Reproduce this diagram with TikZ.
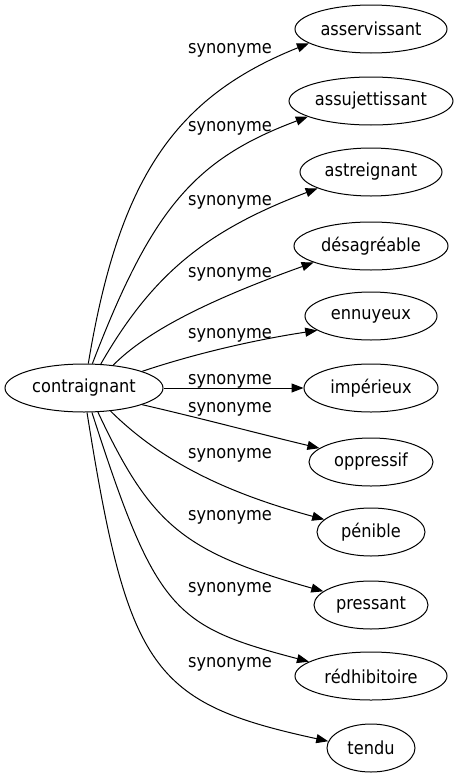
\documentclass[tikz,border=0pt]{standalone}
\usepackage{fontspec}
\setmainfont{DejaVu Sans Condensed}
\usetikzlibrary{shapes.geometric,arrows.meta}
\begin{document}
\begin{tikzpicture}[x=1pt,y=-1pt,
  every node/.style={font=\fontsize{18}{20}\selectfont},
  wnode/.style={draw,ellipse,inner sep=0pt,minimum height=48pt,line width=1pt},
  lab/.style={anchor=base,inner sep=0pt},
  syn/.style={line width=1pt,-{Triangle[length=12pt,width=9pt]}}]
\useasboundingbox (0,0) rectangle (459,779);
\node[wnode,minimum width=158pt] (c) at (84,388) {contraignant};
\node[wnode,minimum width=152pt] (t0) at (371,29) {asservissant};
\node[wnode,minimum width=164pt] (t1) at (371,101) {assujettissant};
\node[wnode,minimum width=142pt] (t2) at (371,172) {astreignant};
\node[wnode,minimum width=154pt] (t3) at (371,246) {désagréable};
\node[wnode,minimum width=132pt] (t4) at (371,316) {ennuyeux};
\node[wnode,minimum width=134pt] (t5) at (371,388) {impérieux};
\node[wnode,minimum width=124pt] (t6) at (371,462) {oppressif};
\node[wnode,minimum width=108pt] (t7) at (371,532) {pénible};
\node[wnode,minimum width=114pt] (t8) at (371,605) {pressant};
\node[wnode,minimum width=152pt] (t9) at (371,676) {rédhibitoire};
\node[wnode,minimum width=88pt] (t10) at (371,748) {tendu};
\node[lab] (l0) at (230,53) {synonyme};
\node[lab] (l1) at (230,131) {synonyme};
\node[lab] (l2) at (230,205) {synonyme};
\node[lab] (l3) at (230,277) {synonyme};
\node[lab] (l4) at (230,338) {synonyme};
\node[lab] (l5) at (230,384) {synonyme};
\node[lab] (l6) at (230,412) {synonyme};
\node[lab] (l7) at (230,458) {synonyme};
\node[lab] (l8) at (230,520) {synonyme};
\node[lab] (l9) at (230,592) {synonyme};
\node[lab] (l10) at (230,667) {synonyme};
\draw[syn] (c.80) .. controls (119,178) and (175,97) .. (t0.193);
\draw[syn] (c.71) .. controls (152,208) and (195,159) .. (t1.194);
\draw[syn] (c.55) .. controls (152,275) and (205,231) .. (t2.197);
\draw[syn] (c.38) .. controls (146,332) and (206,301) .. (t3.196);
\draw[syn] (c.16) .. controls (200,352) and (260,339) .. (t4.195);
\draw[syn] (c.0) -- (t5.180);
\draw[syn] (c.344) .. controls (200,418) and (260,434) .. (t6.165);
\draw[syn] (c.319) .. controls (160,460) and (223,492) .. (t7.165);
\draw[syn] (c.300) .. controls (151,525) and (183,552) .. (t8.164);
\draw[syn] (c.288) .. controls (156,611) and (173,626) .. (t9.167);
\draw[syn] (c.277) .. controls (128,670) and (152,703) .. (t10.171);
\end{tikzpicture}
\end{document}
